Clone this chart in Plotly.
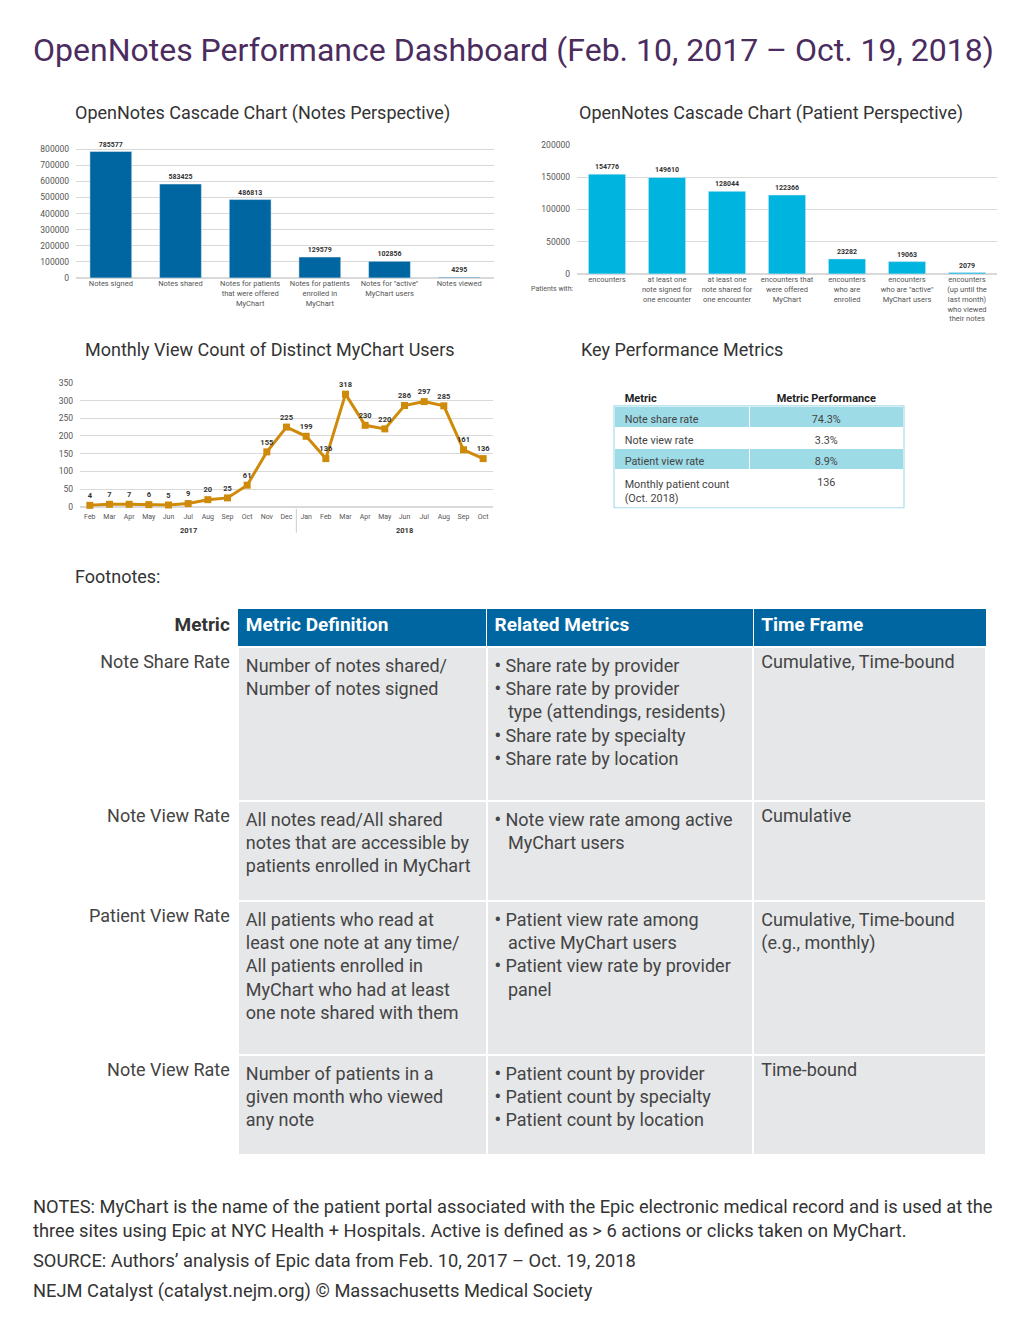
import plotly.graph_objects as go

# ---------------- data ----------------
notes_categories = ["Notes signed", "Notes shared",
                    "Notes for patients<br>that were offered<br>MyChart",
                    "Notes for patients<br>enrolled in<br>MyChart",
                    "Notes for \"active\"<br>MyChart users", "Notes viewed"]
notes_values = [785577, 583425, 486813, 129579, 102856, 4295]

patient_categories = ["encounters",
                      "at least one<br>note signed for<br>one encounter",
                      "at least one<br>note shared for<br>one encounter",
                      "encounters that<br>were offered<br>MyChart",
                      "encounters<br>who are<br>enrolled",
                      "encounters<br>who are \"active\"<br>MyChart users",
                      "encounters<br>(up until the<br>last month)<br>who viewed<br>their notes"]
patient_values = [154776, 149610, 128044, 122366, 23282, 19063, 2079]

view_years = ["2017"] * 11 + ["2018"] * 10
view_months = ["Feb", "Mar", "Apr", "May", "Jun", "Jul", "Aug", "Sep", "Oct", "Nov", "Dec",
               "Jan", "Feb", "Mar", "Apr", "May", "Jun", "Jul", "Aug", "Sep", "Oct"]
view_counts = [4, 7, 7, 6, 5, 9, 20, 25, 61, 155, 225,
               199, 136, 318, 230, 220, 286, 297, 285, 161, 136]
year_label_months = {"2017": "Jul 2017", "2018": "Jun 2018"}

kpi_header = ["\u00a0Metric", "Metric Performance"]
kpi_metrics = ["\u00a0Note share rate", "\u00a0Note view rate", "\u00a0Patient view rate",
               "\u00a0Monthly patient count<br>\u00a0(Oct. 2018)"]
kpi_values = ["74.3%", "3.3%", "8.9%", "136"]

B = "<b>•</b>"
fn_header = ["Metric", "Metric Definition", "Related Metrics", "Time Frame"]
fn_metric = ["Note Share Rate", "Note View Rate", "Patient View Rate", "Note View Rate"]
fn_definition = ["Number of notes shared/<br>Number of notes signed",
                 "All notes read/All shared<br>notes that are accessible by<br>patients enrolled in MyChart",
                 "All patients who read at<br>least one note at any time/<br>All patients enrolled in<br>MyChart who had at least<br>one note shared with them",
                 "Number of patients in a<br>given month who viewed<br>any note"]
fn_related = [f"{B} Share rate by provider<br>{B} Share rate by provider<br>\u00a0\u00a0\u00a0type (attendings, residents)<br>{B} Share rate by specialty<br>{B} Share rate by location<br>\u00a0",
              f"{B} Note view rate among active<br>\u00a0\u00a0\u00a0MyChart users",
              f"{B} Patient view rate among<br>\u00a0\u00a0\u00a0active MyChart users<br>{B} Patient view rate by provider<br>\u00a0\u00a0\u00a0panel<br>\u00a0<br>\u00a0",
              f"{B} Patient count by provider<br>{B} Patient count by specialty<br>{B} Patient count by location"]
fn_timeframe = ["Cumulative, Time-bound", "Cumulative", "Cumulative, Time-bound<br>(e.g., monthly)", "Time-bound"]

title_text = "OpenNotes Performance Dashboard (Feb. 10, 2017 – Oct. 19, 2018)"
notes_text = ("NOTES: MyChart is the name of the patient portal associated with the Epic electronic medical record and is used at the<br>"
              "three sites using Epic at NYC Health + Hospitals. Active is defined as > 6 actions or clicks taken on MyChart.")
source_text = "SOURCE: Authors’ analysis of Epic data from Feb. 10, 2017 – Oct. 19, 2018"
credit_text = "NEJM Catalyst (catalyst.nejm.org) © Massachusetts Medical Society"

# ---------------- styling ----------------
PAGE_OFF = 8          # browser body margin
W, H = 1024 - PAGE_OFF, 1325 - PAGE_OFF
FONT = "Roboto"
BLUE = "#0066a1"
CYAN = "#00b4e0"
ORANGE = "#cf8a0a"
GRID = "#d9d9d9"
TICK = "#555555"
TXT = "#333333"
GREY_CELL = "#e6e7e9"
KPI_CYAN = "#9ddbe7"


def px(x):
    return (x - PAGE_OFF) / W


def py(y):
    y = (y - 5.0) / 0.993   # empirical vertical calibration of the page
    return 1 - (y - PAGE_OFF) / H


view_keys = [f"{m} {y}" for m, y in zip(view_months, view_years)]

fig = go.Figure()

# Chart 1 - notes perspective
fig.add_trace(go.Bar(x=notes_categories, y=notes_values, marker_color=BLUE, width=0.6,
                     texttemplate="<b>%{y:d}</b>", textposition="outside", cliponaxis=False,
                     textfont=dict(size=7, color=TXT), xaxis="x", yaxis="y", hoverinfo="x+y"))

# Chart 2 - patient perspective
fig.add_trace(go.Bar(x=patient_categories, y=patient_values, marker_color=CYAN, width=0.62,
                     texttemplate="<b>%{y:d}</b>", textposition="outside", cliponaxis=False,
                     textfont=dict(size=7, color=TXT), xaxis="x2", yaxis="y2", hoverinfo="x+y"))

# Chart 3 - monthly view count
fig.add_trace(go.Scatter(x=view_keys, y=view_counts, mode="lines+markers+text",
                         line=dict(color=ORANGE, width=3),
                         marker=dict(symbol="square", size=7, color=ORANGE),
                         text=[str(v) for v in view_counts], textposition="top center",
                         texttemplate="<b>%{text}</b>",
                         textfont=dict(size=7.5, color=TXT), cliponaxis=False,
                         xaxis="x3", yaxis="y3"))

# KPI table
fig.add_trace(go.Table(
    domain=dict(x=[px(614), px(904)], y=[py(530), py(386)]),
    columnwidth=[136, 154],
    header=dict(values=kpi_header, fill_color="white", line=dict(color="white", width=1),
                align=["left", "center"], height=21,
                font=dict(family=FONT, size=11, color="#222", weight="bold")),
    cells=dict(values=[kpi_metrics, kpi_values],
               fill_color=[[KPI_CYAN, "white", KPI_CYAN, "white"]] * 2,
               line=dict(color="white", width=1),
               align=["left", "center"], height=21,
               font=dict(family=FONT, size=10.8, color="#444"))
))

# Footnotes table
fig.add_trace(go.Table(
    domain=dict(x=[px(60), px(987)], y=[py(1185), py(609)]),
    columnwidth=[178, 249, 267, 233],
    header=dict(values=fn_header,
                fill_color=["white", BLUE, BLUE, BLUE],
                line=dict(color="white", width=1),
                align=["right", "left", "left", "left"], height=38,
                font=dict(family=FONT, size=19, weight="bold",
                          color=[TXT, "white", "white", "white"])),
    cells=dict(values=[fn_metric, fn_definition, fn_related, fn_timeframe],
               fill_color=[["white"] * 4, [GREY_CELL] * 4, [GREY_CELL] * 4, [GREY_CELL] * 4],
               line=dict(color="white", width=2),
               align=["right", "left", "left", "left"], height=100,
               font=dict(family=FONT, size=18, color="#444"))
))

axis_common = dict(showline=False, ticks="", tickfont=dict(size=7.5, color=TICK, family=FONT))
yaxis_common = dict(showline=False, ticks="", gridcolor=GRID, zeroline=True, zerolinecolor=GRID,
                    tickfont=dict(size=8.5, color=TICK, family=FONT), ticklabelstandoff=6)

fig.update_layout(
    width=W, height=H, margin=dict(l=0, r=0, t=0, b=0),
    paper_bgcolor="white", plot_bgcolor="white", showlegend=False,
    font=dict(family=FONT, color=TXT),
    xaxis=dict(domain=[px(76), px(494)], anchor="y", **axis_common),
    yaxis=dict(domain=[py(278), py(146)], anchor="x", range=[0, 820000], dtick=100000,
               tickformat="d", **yaxis_common),
    xaxis2=dict(domain=[px(577), px(997)], anchor="y2", **axis_common),
    yaxis2=dict(domain=[py(274), py(145)], anchor="x2", range=[0, 200000], dtick=50000,
                tickformat="d", **yaxis_common),
    xaxis3=dict(domain=[px(80), px(493)], anchor="y3", type="category", tickangle=0,
                range=[-0.5, len(view_keys) - 0.5],
                tickvals=view_keys, ticktext=view_months, ticklabelstandoff=4,
                showline=False, ticks="", tickfont=dict(size=7, color=TICK, family=FONT)),
    yaxis3=dict(domain=[py(507), py(383)], anchor="x3", range=[0, 350], dtick=50,
                **yaxis_common),
)

annotations = [
    dict(text=title_text, x=px(31), y=py(50), font=dict(size=32, color="#4b2c5e")),
    dict(text="OpenNotes Cascade Chart (Notes Perspective)", x=px(73), y=py(113), font=dict(size=18, color=TXT)),
    dict(text="OpenNotes Cascade Chart (Patient Perspective)", x=px(577), y=py(113), font=dict(size=18, color=TXT)),
    dict(text="Monthly View Count of Distinct MyChart Users", x=px(83), y=py(350), font=dict(size=18, color=TXT)),
    dict(text="Key Performance Metrics", x=px(579), y=py(350), font=dict(size=18, color=TXT)),
    dict(text="Footnotes:", x=px(73), y=py(577), font=dict(size=18, color=TXT)),
    dict(text=notes_text, x=px(31), y=py(1219), font=dict(size=18.3, color=TXT)),
    dict(text=source_text, x=px(31), y=py(1261), font=dict(size=18.3, color=TXT)),
    dict(text=credit_text, x=px(31), y=py(1292), font=dict(size=18.3, color=TXT)),
    dict(text="Patients with:", x=px(576), y=py(289), xanchor="right", font=dict(size=7, color=TICK)),
]
for a in annotations:
    a.setdefault("xanchor", "left")
    fig.add_annotation(xref="paper", yref="paper", yanchor="middle", showarrow=False, align="left", **a)

# year group labels under the month axis
for yr, key in year_label_months.items():
    fig.add_annotation(xref="x3", yref="paper", x=key, y=py(531), text=f"<b>{yr}</b>",
                       showarrow=False, xanchor="center", yanchor="middle",
                       font=dict(size=7.5, color=TXT))
# divider between years (between Dec 2017 and Jan 2018)
fig.add_shape(type="line", xref="x3", yref="paper", x0=10.5, x1=10.5, y0=py(533), y1=py(509),
              line=dict(color="#cccccc", width=1))

# KPI table outer border
fig.add_shape(type="rect", xref="paper", yref="paper", x0=px(614), x1=px(904), y0=py(508), y1=py(406),
              line=dict(color="#a9dde9", width=1.2), fillcolor="rgba(0,0,0,0)")

fig.write_html("out.html")
